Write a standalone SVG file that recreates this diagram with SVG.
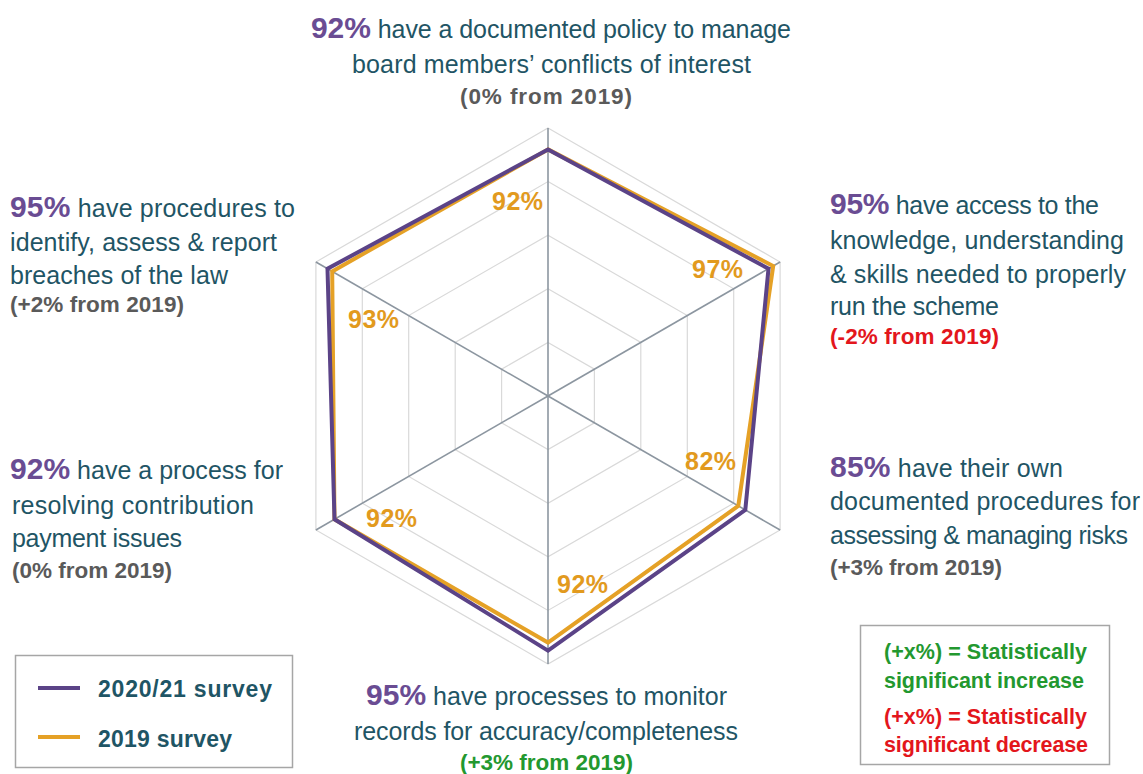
<svg xmlns="http://www.w3.org/2000/svg" width="1143" height="774" viewBox="0 0 1143 774">
<style>
.t{font-family:"Liberation Sans",Arial,sans-serif;font-size:25px;fill:#1f5565}
.p{font-weight:bold;font-size:30px;fill:#6a4c93}
.g{font-family:"Liberation Sans",Arial,sans-serif;font-weight:bold;font-size:22.5px;fill:#5a5a5a}
.k{font-family:"Liberation Sans",Arial,sans-serif;font-weight:bold;font-size:21.5px}
.red{fill:#e3161c}
.grn{fill:#23982f}
.v{font-family:"Liberation Sans",Arial,sans-serif;font-weight:bold;font-size:25px;fill:#e29a1e}
.ring{fill:none;stroke:#d9d9d9;stroke-width:1.2}
.axis{stroke:#8c96a0;stroke-width:1.6}
.lg{font-family:"Liberation Sans",Arial,sans-serif;font-weight:bold;font-size:23px;fill:#1f5565}
.box{fill:#fff;stroke:#a6a6a6;stroke-width:1.5}
</style>
<rect width="1143" height="774" fill="#fff"/>
<g id="chart">
<g id="grid">
<polygon class="ring" points="548,128 780.1,262 780.1,530 548,664 315.9,530 315.9,262"/>
<polygon class="ring" points="548,181.6 733.7,288.8 733.7,503.2 548,610.4 362.3,503.2 362.3,288.8"/>
<polygon class="ring" points="548,235.2 687.3,315.6 687.3,476.4 548,556.8 408.7,476.4 408.7,315.6"/>
<polygon class="ring" points="548,288.8 640.8,342.4 640.8,449.6 548,503.2 455.2,449.6 455.2,342.4"/>
<polygon class="ring" points="548,342.4 594.4,369.2 594.4,422.8 548,449.6 501.6,422.8 501.6,369.2"/>
<line class="axis" x1="548" y1="396" x2="548" y2="128"/>
<line class="axis" x1="548" y1="396" x2="780.1" y2="262"/>
<line class="axis" x1="548" y1="396" x2="780.1" y2="530"/>
<line class="axis" x1="548" y1="396" x2="548" y2="664"/>
<line class="axis" x1="548" y1="396" x2="315.9" y2="530"/>
<line class="axis" x1="548" y1="396" x2="315.9" y2="262"/>
</g>
<g id="series">
<polygon points="548,149.4 773.2,266 738.3,505.9 548,642.6 334.5,519.3 332.2,271.4" fill="none" stroke="#e5a126" stroke-width="4"/>
<polygon points="548,149.4 768.5,268.7 745.3,509.9 548,650.6 334.5,519.3 327.5,268.7" fill="none" stroke="#5b4387" stroke-width="4"/>
</g>
<g id="values">
<text class="v" x="492" y="210" textLength="51">92%</text>
<text class="v" x="692" y="278" textLength="51">97%</text>
<text class="v" x="348" y="328" textLength="51">93%</text>
<text class="v" x="685" y="470" textLength="51">82%</text>
<text class="v" x="366" y="527" textLength="51">92%</text>
<text class="v" x="557" y="593" textLength="51">92%</text>
</g>
</g>
<g id="label-top">
<text class="t" x="311" y="38" textLength="480"><tspan class="p">92%</tspan> have a documented policy to manage</text>
<text class="t" x="352" y="73" textLength="399">board members’ conflicts of interest</text>
<text class="g" x="460" y="104" textLength="172">(0% from 2019)</text>
</g>
<g id="label-upper-left">
<text class="t" x="10" y="217" textLength="285"><tspan class="p">95%</tspan> have procedures to</text>
<text class="t" x="10" y="251" textLength="267">identify, assess &amp; report</text>
<text class="t" x="10" y="284" textLength="218">breaches of the law</text>
<text class="g" x="10" y="312" textLength="174">(+2% from 2019)</text>
</g>
<g id="label-lower-left">
<text class="t" x="10" y="479" textLength="273"><tspan class="p">92%</tspan> have a process for</text>
<text class="t" x="12" y="514" textLength="242">resolving contribution</text>
<text class="t" x="12" y="547" textLength="170">payment issues</text>
<text class="g" x="12" y="578" textLength="160">(0% from 2019)</text>
</g>
<g id="label-upper-right">
<text class="t" x="830" y="214" textLength="269"><tspan class="p">95%</tspan> have access to the</text>
<text class="t" x="830" y="249" textLength="294">knowledge, understanding</text>
<text class="t" x="830" y="283" textLength="296">&amp; skills needed to properly</text>
<text class="t" x="830" y="315" textLength="169">run the scheme</text>
<text class="g red" x="830" y="344" textLength="169">(-2% from 2019)</text>
</g>
<g id="label-lower-right">
<text class="t" x="830" y="477" textLength="233"><tspan class="p">85%</tspan> have their own</text>
<text class="t" x="830" y="510" textLength="310">documented procedures for</text>
<text class="t" x="830" y="544" textLength="298">assessing &amp; managing risks</text>
<text class="g" x="830" y="575" textLength="172">(+3% from 2019)</text>
</g>
<g id="label-bottom">
<text class="t" x="366" y="705" textLength="361"><tspan class="p">95%</tspan> have processes to monitor</text>
<text class="t" x="354" y="740" textLength="384">records for accuracy/completeness</text>
<text class="g grn" x="460" y="770" textLength="173">(+3% from 2019)</text>
</g>
<g id="legend">
<rect class="box" x="15.5" y="655.5" width="277" height="112"/>
<line x1="38" y1="688" x2="80" y2="688" stroke="#5b4387" stroke-width="4"/>
<text class="lg" x="98" y="697" textLength="174">2020/21 survey</text>
<line x1="38" y1="737" x2="80" y2="737" stroke="#e5a126" stroke-width="4"/>
<text class="lg" x="98" y="747" textLength="134">2019 survey</text>
</g>
<g id="key">
<rect class="box" x="860.5" y="625.5" width="249" height="139"/>
<text class="k grn" x="884" y="659" textLength="203">(+x%) = Statistically</text>
<text class="k grn" x="884" y="688" textLength="200">significant increase</text>
<text class="k red" x="884" y="724" textLength="203">(+x%) = Statistically</text>
<text class="k red" x="884" y="752" textLength="204">significant decrease</text>
</g>
</svg>
